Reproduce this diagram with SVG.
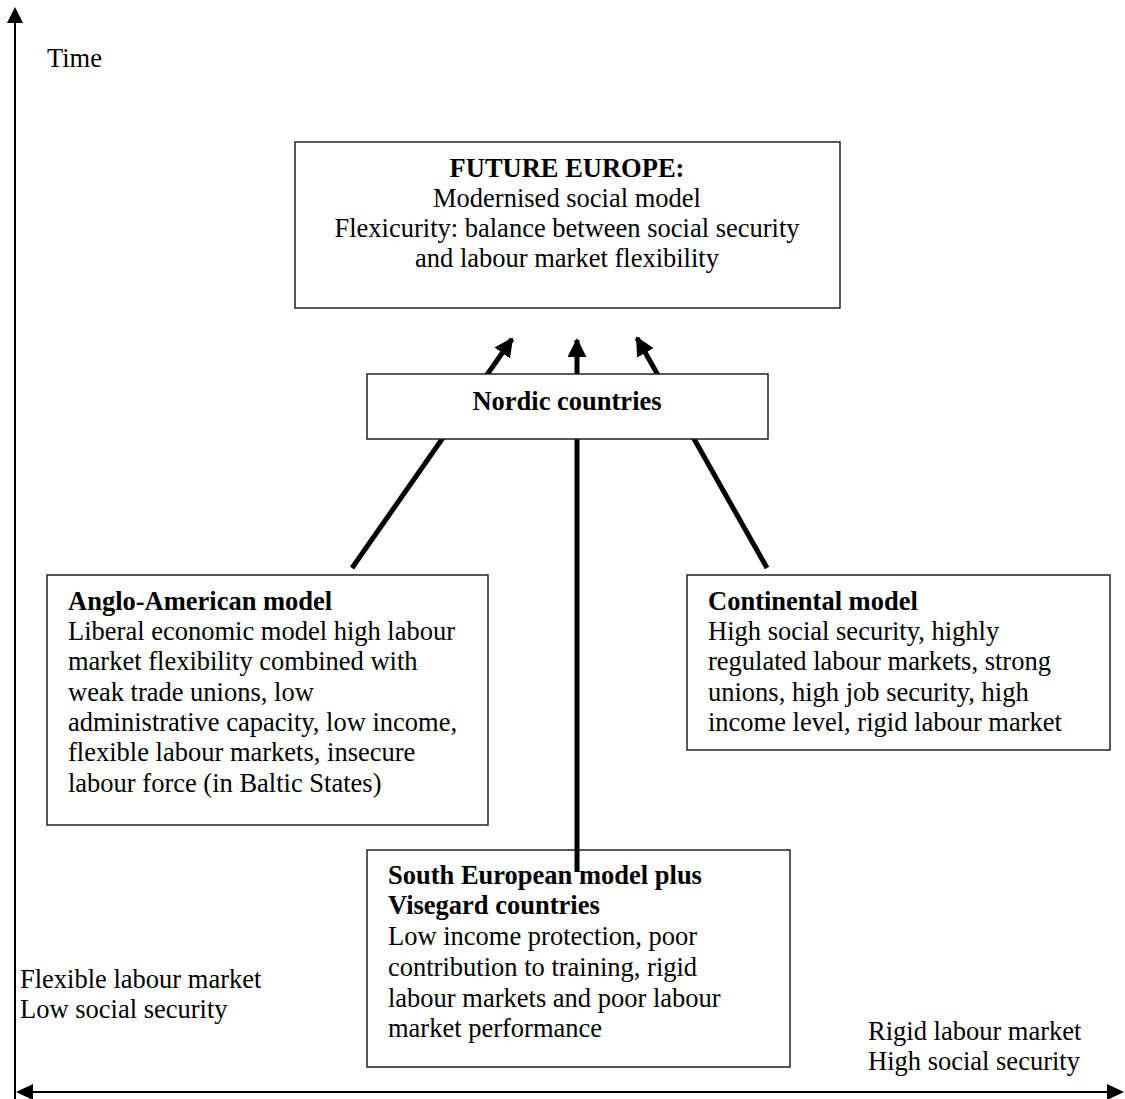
<svg xmlns="http://www.w3.org/2000/svg" width="1125" height="1099" viewBox="0 0 1125 1099">
<style>
text{font-family:"Liberation Serif","Times New Roman",serif;font-size:26.5px;fill:#000}
.b{font-weight:bold}
.box{fill:#fff;stroke:#222;stroke-width:1.5}
.ax{stroke:#000;stroke-width:2;fill:none}
.ar{stroke:#000;stroke-width:5;fill:none}
</style>
<defs>
<marker id="ah" viewBox="0 0 10 10" refX="9" refY="5" markerWidth="3.8" markerHeight="3.8" orient="auto" markerUnits="strokeWidth"><path d="M0,0L10,5L0,10z" fill="#000"/></marker>
</defs>
<g id="axes">
<line class="ax" x1="15" y1="1099" x2="15" y2="22"/>
<polygon points="15,7 7,23 23,23" fill="#000"/>
<line class="ax" x1="30" y1="1092" x2="1110" y2="1092"/>
<polygon points="16,1092 33,1084 33,1100" fill="#000"/>
<polygon points="1124,1092 1107,1084 1107,1100" fill="#000"/>
<text x="47" y="67">Time</text>
<text x="20" y="988">Flexible labour market</text>
<text x="20" y="1018">Low social security</text>
<text x="868" y="1040">Rigid labour market</text>
<text x="868" y="1070">High social security</text>
</g>
<g id="connectors">
<line class="ar" x1="352" y1="568" x2="512" y2="339" marker-end="url(#ah)"/>
<line class="ar" x1="577" y1="872" x2="577" y2="340" marker-end="url(#ah)"/>
<line class="ar" x1="767" y1="568" x2="637" y2="338" marker-end="url(#ah)"/>
</g>
<g id="future-europe">
<rect class="box" x="295" y="142" width="545" height="166"/>
<text x="567" y="177" text-anchor="middle" class="b">FUTURE EUROPE:</text>
<text x="567" y="207" text-anchor="middle">Modernised social model</text>
<text x="567" y="237" text-anchor="middle">Flexicurity: balance between social security</text>
<text x="567" y="267" text-anchor="middle">and labour market flexibility</text>
</g>
<g id="nordic">
<rect class="box" x="367" y="374" width="401" height="65"/>
<text x="567" y="410" text-anchor="middle" class="b">Nordic countries</text>
</g>
<g id="anglo-american">
<rect class="box" x="47" y="575" width="441" height="250"/>
<text x="68" y="610" class="b">Anglo-American model</text>
<text x="68" y="640">Liberal economic model high labour</text>
<text x="68" y="670">market flexibility combined with</text>
<text x="68" y="701">weak trade unions, low</text>
<text x="68" y="731">administrative capacity, low income,</text>
<text x="68" y="761">flexible labour markets, insecure</text>
<text x="68" y="792">labour force (in Baltic States)</text>
</g>
<g id="continental">
<rect class="box" x="687" y="575" width="423" height="175"/>
<text x="708" y="610" class="b">Continental model</text>
<text x="708" y="640">High social security, highly</text>
<text x="708" y="670">regulated labour markets, strong</text>
<text x="708" y="701">unions, high job security, high</text>
<text x="708" y="731">income level, rigid labour market</text>
</g>
<g id="south-european">
<rect class="box" x="367" y="850" width="423" height="217"/>
<text x="388" y="884" class="b">South European model plus</text>
<text x="388" y="914" class="b">Visegard countries</text>
<text x="388" y="945">Low income protection, poor</text>
<text x="388" y="976">contribution to training, rigid</text>
<text x="388" y="1007">labour markets and poor labour</text>
<text x="388" y="1037">market performance</text>
</g>
<line class="ar" x1="577" y1="850" x2="577" y2="872"/>
</svg>
